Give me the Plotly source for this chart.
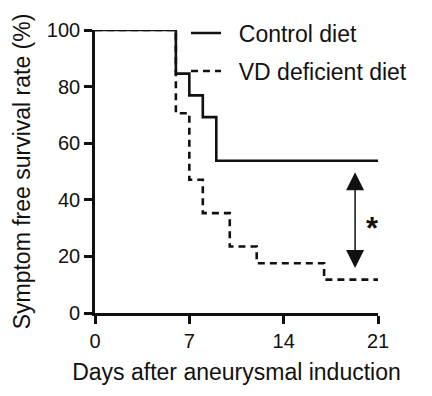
import plotly.graph_objects as go

# Data
control_days = [0, 6, 7, 8, 9, 21]
control_surv = [100, 84.6, 76.9, 69.2, 53.8, 53.8]
vd_days = [0, 6, 7, 8, 10, 12, 17, 21]
vd_surv = [100, 70.6, 47.1, 35.3, 23.5, 17.6, 11.8, 11.8]
x_ticks = [0, 7, 14, 21]
y_ticks = [0, 20, 40, 60, 80, 100]
arrow_day = 19.3
arrow_top = 50.3
arrow_bottom = 15.9
star_day = 20.6
star_y = 31.8

FONT = "Liberation Sans, Arial, sans-serif"
INK = "#111111"
OFF = 8  # default page body margin
W, H = 432 - OFF, 396 - OFF
L, R, T, B = 95 - OFF, 54, 30 - OFF, 83
PW, PH = W - L - R, H - T - B


def px_x(p):
    return (p - OFF - L) / PW


def px_y(p):
    return (H - B - (p - OFF)) / PH


fig = go.Figure()
fig.add_trace(go.Scatter(
    x=control_days, y=control_surv, mode="lines", line_shape="hv",
    name="\u00a0\u00a0Control diet", line=dict(color=INK, width=2.6),
    cliponaxis=False, legend="legend"))
fig.add_trace(go.Scatter(
    x=vd_days, y=vd_surv, mode="lines", line_shape="hv",
    name="\u00a0\u00a0VD deficient diet",
    line=dict(color=INK, width=2.6, dash="7px,5px"),
    cliponaxis=False, legend="legend2"))

fig.add_annotation(
    x=arrow_day, y=arrow_bottom, ax=arrow_day, ay=arrow_top,
    xref="x", yref="y", axref="x", ayref="y", text="",
    showarrow=True, arrowhead=2, startarrowhead=2, arrowside="end+start",
    arrowwidth=1.5, arrowsize=2.4, startarrowsize=2.4, arrowcolor=INK)
fig.add_annotation(
    x=star_day, y=star_y, xref="x", yref="y", text="<b>*</b>", showarrow=False,
    font=dict(family=FONT, size=31, color=INK), yshift=-5)

fig.update_layout(
    width=W, height=H, showlegend=True,
    margin=dict(l=L, r=R, t=T, b=B, autoexpand=False),
    paper_bgcolor="white", plot_bgcolor="white",
    font=dict(family=FONT, color=INK),
    legend=dict(x=px_x(186), y=px_y(33), visible=True,
                xanchor="left", yanchor="middle", font=dict(size=23, color=INK),
                bgcolor="rgba(0,0,0,0)", itemwidth=30),
    legend2=dict(x=px_x(186), y=px_y(71), visible=True,
                 xanchor="left", yanchor="middle", font=dict(size=23, color=INK),
                 bgcolor="rgba(0,0,0,0)", itemwidth=30),
    xaxis=dict(range=[0, 21], tickvals=x_ticks, showgrid=False, zeroline=False,
               showline=True, linecolor=INK, linewidth=2.6, ticks="outside",
               ticklen=8, tickwidth=2.6, tickcolor=INK,
               tickfont=dict(size=20, color=INK),
               title=dict(text="Days after aneurysmal induction",
                          font=dict(size=23, color=INK), standoff=14)),
    yaxis=dict(range=[0, 100], tickvals=y_ticks, showgrid=False, zeroline=False,
               showline=True, linecolor=INK, linewidth=2.6, ticks="outside",
               ticklen=8, tickwidth=2.6, tickcolor=INK,
               tickfont=dict(size=20, color=INK),
               title=dict(text="Symptom free survival rate (%)",
                          font=dict(size=23, color=INK), standoff=10)),
)

fig.write_html("out.html")
